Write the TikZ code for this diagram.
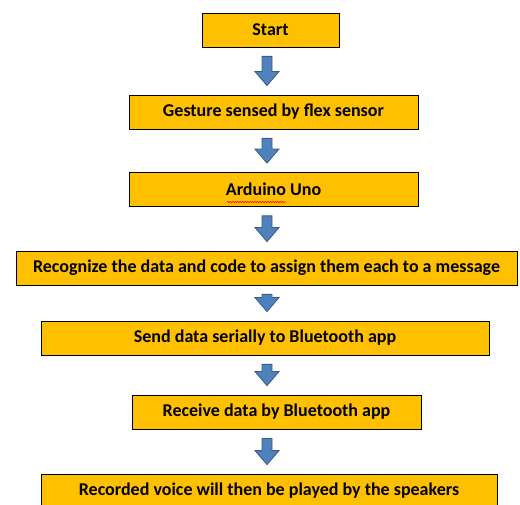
\documentclass[tikz,border=0pt]{standalone}
\usepackage{fontspec}
\setmainfont{Carlito}
\usetikzlibrary{calc,decorations.pathmorphing}
\definecolor{boxfill}{HTML}{FFC000}
\definecolor{arrowfill}{HTML}{4F81BD}
\definecolor{arrowline}{HTML}{385D8A}
% block arrow from the bottom of one box to the top of the next
\newcommand{\flowarrow}[2]{%
  \coordinate (atop) at ($(#1.south -| axis)+(0,9)$);
  \coordinate (abot) at ($(#2.north -| axis)+(0,-9)$);
  \filldraw[arrowshape] ($(atop)+(-5,0)$) -- ($(atop)+(5,0)$) -- ($(abot)+(5,-14)$)
    -- ($(abot)+(12,-14)$) -- (abot) -- ($(abot)+(-12,-14)$) -- ($(abot)+(-5,-14)$) -- cycle;
}
\begin{document}
\begin{tikzpicture}[x=1pt,y=-1pt,
  stepbox/.style={draw=black,line width=0.8pt,fill=boxfill,inner sep=0pt,
    minimum height=34pt,font=\fontsize{18}{20}\selectfont\bfseries},
  arrowshape/.style={fill=arrowfill,draw=arrowline,line width=0.8pt,line join=miter}]
  \useasboundingbox (0,0) rectangle (520,505);
  \coordinate (axis) at (267,0);
  \node[stepbox,minimum width=137pt] (start) at (270.5,30) {Start};
  \node[stepbox,minimum width=289pt] (gesture) at (273.5,112) {Gesture sensed by flex sensor};
  \node[stepbox,minimum width=289pt] (arduino) at (273.5,189.5) {Arduino Uno};
  \node[stepbox,minimum width=501pt] (recognize) at (266.5,268) {Recognize the data and code to assign them each to a message};
  \node[stepbox,minimum width=448pt] (send) at (265,338) {Send data serially to Bluetooth app};
  \node[stepbox,minimum width=289pt] (receive) at (276.5,412) {Receive data by Bluetooth app};
  \node[stepbox,minimum width=456pt] (voice) at (269,491) {Recorded voice will then be played by the speakers};
  \draw[red,line width=0.5pt,decorate,decoration={snake,amplitude=0.8pt,segment length=2.5pt}]
    (227,202) -- (286,202);
  \flowarrow{start}{gesture}
  \flowarrow{gesture}{arduino}
  \flowarrow{arduino}{recognize}
  \flowarrow{recognize}{send}
  \flowarrow{send}{receive}
  \flowarrow{receive}{voice}
\end{tikzpicture}
\end{document}
